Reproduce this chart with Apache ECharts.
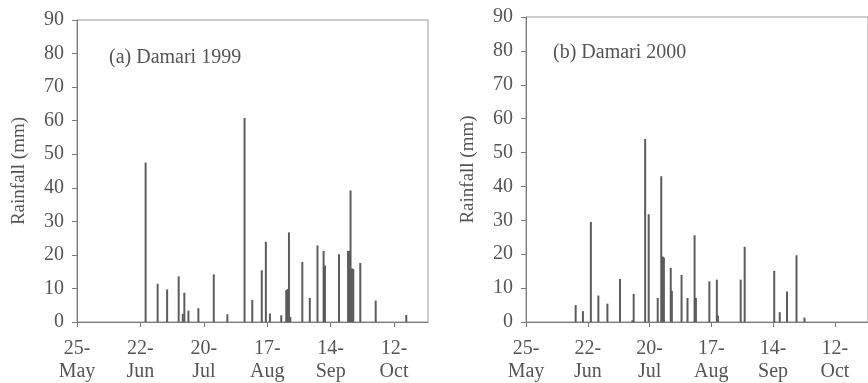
<!DOCTYPE html>
<html>
<head>
<meta charset="utf-8">
<script src="https://cdn.jsdelivr.net/npm/echarts@6/dist/echarts.min.js"></script>
<style>
  html, body { margin: 0; padding: 0; background: #fff; }
  #chart { width: 868px; height: 383px; }
</style>
</head>
<body>
<div id="chart"></div>
<script>
// days counted from 25 May, rainfall in mm
var tickDays = [0, 28, 56, 84, 112, 140];
var tickLabels = ["25-\nMay", "22-\nJun", "20-\nJul", "17-\nAug", "14-\nSep", "12-\nOct"];

var daysA = [30.3, 35.6, 39.8, 44.9, 46.7, 47.4, 49.2, 53.6, 60.4, 66.4, 74.0, 77.4, 81.6, 83.4, 85.2,
  90.2, 92.4, 93.0, 93.6, 94.2, 99.5, 102.8, 106.2, 108.9, 109.5, 115.7, 119.7, 120.3, 120.8, 121.4,
  122.0, 125.1, 131.9, 145.4];
var rainA = [47.5, 11.4, 9.7, 13.6, 2.4, 8.7, 3.4, 4.1, 14.2, 2.3, 60.8, 6.6, 15.4, 23.9, 2.5,
  2.0, 9.5, 9.8, 26.7, 1.5, 17.9, 7.2, 22.8, 21.2, 16.8, 20.2, 21.2, 21.2, 39.2, 16.0,
  15.8, 17.6, 6.4, 2.1];

var daysB = [22.5, 25.8, 29.4, 32.8, 36.9, 42.6, 48.2, 48.8, 54.0, 55.6, 59.7, 61.3, 62.0, 62.5,
  65.6, 66.1, 70.5, 73.2, 76.4, 77.0, 83.1, 86.5, 87.0, 97.3, 99.1, 112.5, 115.0, 118.3, 122.6, 126.2];
var rainB = [5.0, 3.2, 29.5, 7.8, 5.4, 12.7, 0.5, 8.3, 54.0, 31.8, 7.1, 43.0, 19.3, 19.0,
  16.0, 9.2, 13.9, 7.1, 25.6, 7.1, 12.0, 12.5, 1.9, 12.5, 22.2, 15.1, 2.9, 9.0, 19.7, 1.3];

var font = "Liberation Serif";
var textColor = "#555";
var lineColor = "#7a7a7a";

function pairs(xs, ys) {
  return xs.map(function (x, i) { return [x, ys[i]]; });
}

function xAxisFor(gridIndex) {
  return {
    type: "value",
    gridIndex: gridIndex,
    min: 0,
    max: 155,
    axisLine: { show: true, lineStyle: { color: lineColor, width: 1 } },
    axisTick: { show: true, length: 5, customValues: tickDays, lineStyle: { color: lineColor } },
    axisLabel: {
      customValues: tickDays,
      margin: 15,
      color: textColor,
      fontFamily: font,
      fontSize: 20,
      lineHeight: 23,
      formatter: function (v) {
        var i = tickDays.indexOf(v);
        return i >= 0 ? tickLabels[i] : "";
      }
    },
    splitLine: { show: false }
  };
}

function yAxisFor(gridIndex) {
  return {
    type: "value",
    gridIndex: gridIndex,
    min: 0,
    max: 90,
    interval: 10,
    name: "Rainfall (mm)",
    nameLocation: "middle",
    nameGap: 48,
    nameTextStyle: { color: textColor, fontFamily: font, fontSize: 19 },
    axisLine: { show: true, lineStyle: { color: lineColor, width: 1 } },
    axisTick: { show: true, length: 5, lineStyle: { color: lineColor } },
    axisLabel: { margin: 13, color: textColor, fontFamily: font, fontSize: 20 },
    splitLine: { show: false }
  };
}

var chart = echarts.init(document.getElementById("chart"));
var option = {
  backgroundColor: "#fff",
  animation: false,
  title: [
    { text: "(a) Damari 1999", left: 104, top: 43,
      textStyle: { color: textColor, fontFamily: font, fontSize: 20, fontWeight: "normal" } },
    { text: "(b) Damari 2000", left: 548, top: 38,
      textStyle: { color: textColor, fontFamily: font, fontSize: 20, fontWeight: "normal" } }
  ],
  grid: [
    { left: 77, right: 440, top: 20, bottom: 60, show: true, borderColor: "#999", borderWidth: 1, containLabel: false },
    { left: 526, right: -6, top: 17, bottom: 57, show: true, borderColor: "#999", borderWidth: 1, containLabel: false }
  ],
  xAxis: [xAxisFor(0), xAxisFor(1)],
  yAxis: [yAxisFor(0), yAxisFor(1)],
  series: [
    {
      type: "bar",
      xAxisIndex: 0,
      yAxisIndex: 0,
      barWidth: 2,
      itemStyle: { color: "#5c5c5c" },
      data: pairs(daysA, rainA)
    },
    {
      type: "bar",
      xAxisIndex: 1,
      yAxisIndex: 1,
      barWidth: 2,
      itemStyle: { color: "#5c5c5c" },
      data: pairs(daysB, rainB)
    }
  ]
};
chart.setOption(option);
</script>
</body>
</html>
